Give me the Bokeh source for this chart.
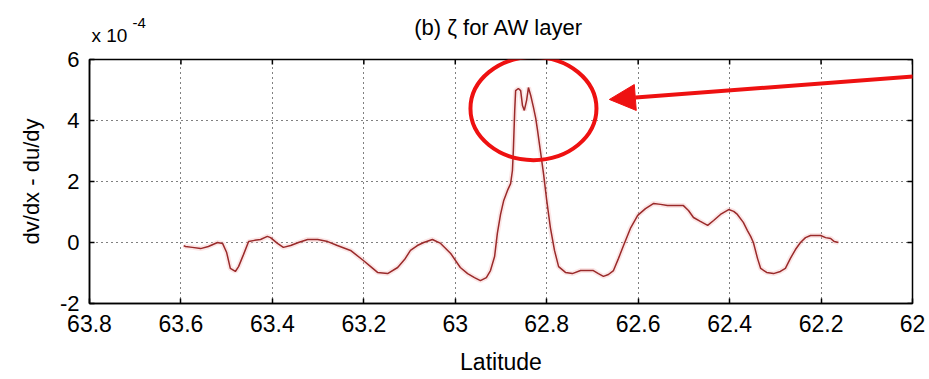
from bokeh.plotting import figure
from bokeh.models import Range1d, Arrow, NormalHead, FixedTicker
from bokeh.layouts import column
from bokeh.core.properties import value
from bokeh.embed import file_html
from bokeh.resources import INLINE

# ---- data (zeta in units of 1e-4) ----
lat = [63.594, 63.590, 63.575, 63.557, 63.540, 63.520, 63.509, 63.500, 63.492, 63.481,
       63.474, 63.463, 63.452, 63.439, 63.426, 63.411, 63.404, 63.389, 63.376, 63.360,
       63.343, 63.323, 63.301, 63.279, 63.258, 63.229, 63.201, 63.185, 63.170, 63.148,
       63.126, 63.111, 63.098, 63.083, 63.069, 63.050, 63.032, 63.010, 62.989, 62.973,
       62.958, 62.945, 62.932, 62.923, 62.914, 62.908, 62.901, 62.894, 62.886, 62.879,
       62.875, 62.873, 62.870, 62.868, 62.862, 62.857, 62.853, 62.849, 62.844, 62.840,
       62.835, 62.829, 62.824, 62.820, 62.814, 62.807, 62.800, 62.792, 62.783, 62.774,
       62.759, 62.744, 62.726, 62.711, 62.698, 62.687, 62.676, 62.665, 62.654, 62.643,
       62.632, 62.617, 62.601, 62.584, 62.566, 62.551, 62.536, 62.518, 62.501, 62.490,
       62.479, 62.464, 62.448, 62.435, 62.420, 62.402, 62.391, 62.383, 62.370, 62.361,
       62.354, 62.348, 62.339, 62.332, 62.319, 62.304, 62.289, 62.278, 62.267, 62.256,
       62.245, 62.234, 62.223, 62.212, 62.201, 62.190, 62.179, 62.171, 62.162]
zeta = [-0.10, -0.13, -0.16, -0.20, -0.13, 0.00, -0.03, -0.33, -0.85, -0.95,
        -0.79, -0.39, 0.03, 0.07, 0.10, 0.20, 0.16, -0.03, -0.16, -0.10,
        0.00, 0.10, 0.10, 0.03, -0.10, -0.26, -0.59, -0.79, -0.98, -1.02,
        -0.82, -0.56, -0.26, -0.10, 0.00, 0.10, -0.03, -0.36, -0.82, -1.02,
        -1.15, -1.25, -1.15, -0.92, -0.46, 0.30, 0.92, 1.38, 1.70, 1.93,
        2.36, 3.02, 4.33, 4.98, 5.05, 4.98, 4.49, 4.33, 4.66, 5.08,
        4.82, 4.43, 4.07, 3.67, 3.02, 2.26, 1.38, 0.49, -0.26, -0.79,
        -0.98, -1.02, -0.92, -0.92, -0.92, -1.02, -1.11, -1.05, -0.92, -0.52,
        -0.10, 0.46, 0.89, 1.11, 1.28, 1.25, 1.21, 1.21, 1.21, 1.05,
        0.82, 0.69, 0.56, 0.72, 0.92, 1.08, 1.02, 0.92, 0.66, 0.39,
        0.20, 0.00, -0.52, -0.85, -0.98, -1.02, -0.95, -0.85, -0.52, -0.23,
        0.00, 0.16, 0.23, 0.23, 0.23, 0.16, 0.13, 0.03, 0.00]

x_ticks = [63.8, 63.6, 63.4, 63.2, 63.0, 62.8, 62.6, 62.4, 62.2, 62.0]
x_tick_labels = ["63.8", "63.6", "63.4", "63.2", "63", "62.8", "62.6", "62.4", "62.2", "62"]
y_ticks = [-2, 0, 2, 4, 6]
y_tick_labels = ["-2", "0", "2", "4", "6"]

title_text = "(b) \u03b6 for AW layer"
x_label = "Latitude"
y_label = "dv/dx - du/dy"
multiplier_base = "x 10"
multiplier_exp = "-4"

# highlighted region (ellipse) and arrow
ell_x, ell_y, ell_w, ell_h = 62.829, 4.39, 0.2756, 3.38
arrow_start = (61.967, 5.48)
arrow_end = (62.663, 4.69)

FONT = "Liberation Sans"
X0, X1 = 63.8, 62.0
Y0, Y1 = -2, 6

W = 929
HEAD_H = 46
MAIN_H = 379 - HEAD_H
BL, BR, BT, BB = 89, 17, 13, 76
frame_w = W - BL - BR
frame_h = MAIN_H - BT - BB

xr = Range1d(X0, X1)

# ---- header strip (title and exponent multiplier) ----
head = figure(width=W, height=HEAD_H, x_range=xr, y_range=Range1d(HEAD_H, 0),
              output_backend="svg", toolbar_location=None, title=None,
              x_axis_location=None, y_axis_location=None,
              min_border_left=BL, min_border_right=BR, min_border_top=0, min_border_bottom=0)
head.outline_line_color = None
head.xgrid.visible = False
head.ygrid.visible = False
head.text(x=[62.905], y=[27], text=[title_text], text_align="center",
          text_baseline="middle", text_font=value(FONT), text_font_size="22px",
          text_color="black")
head.text(x=[X0], y=[35], x_offset=2, text=[multiplier_base], text_align="left",
          text_baseline="middle", text_font=value(FONT), text_font_size="19px",
          text_color="black")
head.text(x=[X0], y=[22], x_offset=43, text=[multiplier_exp], text_align="left",
          text_baseline="middle", text_font=value(FONT), text_font_size="15px",
          text_color="black")

# ---- main plot ----
p = figure(width=W, height=MAIN_H, title=None,
           x_range=xr, y_range=Range1d(Y0, Y1),
           output_backend="svg", toolbar_location=None,
           min_border_left=BL, min_border_right=BR,
           min_border_top=BT, min_border_bottom=BB)
p.background_fill_color = "white"
p.border_fill_color = "white"
p.outline_line_color = "black"
p.outline_line_width = 1.5

xt = FixedTicker(ticks=x_ticks)
yt = FixedTicker(ticks=y_ticks)

for ax in (p.xaxis[0], p.yaxis[0]):
    ax.major_tick_in = 5
    ax.major_tick_out = 0
    ax.minor_tick_line_color = None
    ax.axis_line_color = "black"
    ax.axis_line_width = 1.5
    ax.major_tick_line_color = "black"
    ax.major_tick_line_width = 1.5
    ax.major_label_text_font = FONT
    ax.major_label_text_color = "black"
    ax.axis_label_text_font = FONT
    ax.axis_label_text_font_style = "normal"
    ax.axis_label_text_color = "black"

p.xaxis[0].ticker = xt
p.xaxis[0].major_label_overrides = {t: l for t, l in zip(x_ticks, x_tick_labels)}
p.xaxis[0].major_label_text_font_size = "23px"
p.xaxis[0].major_label_standoff = 11
p.xaxis[0].axis_label = x_label
p.xaxis[0].axis_label_text_font_size = "23px"
p.xaxis[0].axis_label_standoff = 14

p.yaxis[0].ticker = yt
p.yaxis[0].major_label_overrides = {t: l for t, l in zip(y_ticks, y_tick_labels)}
p.yaxis[0].major_label_text_font_size = "22px"
p.yaxis[0].major_label_standoff = 10
p.yaxis[0].axis_label = y_label
p.yaxis[0].axis_label_text_font_size = "22px"
p.yaxis[0].axis_label_standoff = 13

for g, t in ((p.xgrid[0], xt), (p.ygrid[0], yt)):
    g.ticker = t
    g.grid_line_color = "black"
    g.grid_line_dash = "1 4"
    g.grid_line_width = 1

# mirrored inward ticks on top and right edges (MATLAB box style)
tick_px = 5
dy = (Y1 - Y0) / frame_h * tick_px
dx = abs(X1 - X0) / frame_w * tick_px
p.segment(x0=x_ticks, y0=[Y1] * len(x_ticks), x1=x_ticks, y1=[Y1 - dy] * len(x_ticks),
          line_color="black", line_width=1.5)
p.segment(x0=[X1] * len(y_ticks), y0=y_ticks, x1=[X1 + dx] * len(y_ticks), y1=y_ticks,
          line_color="black", line_width=1.5)

# the series (faint halo + line)
p.line(lat, zeta, line_color="#f3b8b8", line_width=5, line_alpha=0.35)
p.line(lat, zeta, line_color="#9a2a2a", line_width=1.5)

# highlight annotation
p.ellipse(x=[ell_x], y=[ell_y], width=[ell_w], height=[ell_h],
          fill_color=None, line_color="#ee1111", line_width=4)
p.add_layout(Arrow(end=NormalHead(size=26, fill_color="#ee1111", line_color="#ee1111"),
                   x_start=arrow_start[0], y_start=arrow_start[1],
                   x_end=arrow_end[0], y_end=arrow_end[1],
                   line_color="#ee1111", line_width=4))

layout = column(head, p, spacing=0)
open("out.html", "w").write(file_html(layout, INLINE))
